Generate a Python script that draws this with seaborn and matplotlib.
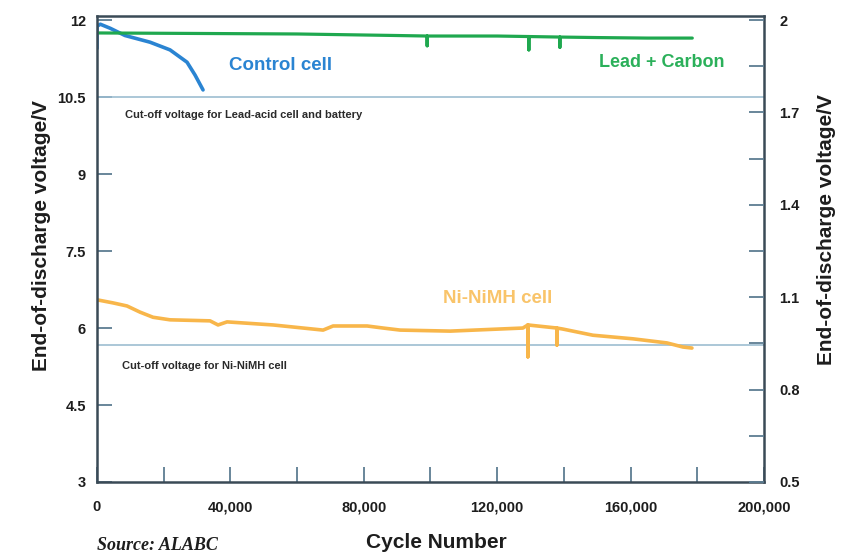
import numpy as np
import pandas as pd
import matplotlib.pyplot as plt
import seaborn as sns
from matplotlib.ticker import MultipleLocator, FuncFormatter

sns.set_style("white")
plt.rcParams['font.family'] = ['Liberation Sans', 'DejaVu Sans']
plt.rcParams['font.weight'] = 'bold'

# data (cycle number, end-of-discharge voltage on the 12 V scale)
control_cycles = [0, 0, 1000, 4000, 8400, 15900, 21900, 27000, 29400, 31800]
control_volts = [11.45, 11.88, 11.92, 11.84, 11.70, 11.57, 11.42, 11.18, 10.93, 10.64]

lead_cycles = [0, 30000, 60000, 90000, 99000, 99000, 99000, 110000, 120000,
               129500, 129500, 129500, 138800, 138800, 138800, 150000, 165000, 178500]
lead_volts = [11.75, 11.74, 11.73, 11.70, 11.69, 11.50, 11.69, 11.69, 11.69,
              11.68, 11.42, 11.68, 11.67, 11.47, 11.67, 11.66, 11.65, 11.65]

nimh_cycles = [0, 4800, 9000, 12900, 16800, 21900, 33900, 36300, 39000, 52800,
               67800, 70800, 81000, 85800, 90900, 105900, 127700, 129200, 129200,
               129200, 137900, 137900, 137900, 139700, 148700, 160700, 170900,
               175700, 178400]
nimh_volts = [6.55, 6.49, 6.43, 6.31, 6.21, 6.16, 6.14, 6.06, 6.12, 6.06,
              5.96, 6.04, 6.04, 6.00, 5.96, 5.94, 6.00, 6.06, 5.44,
              6.06, 6.00, 5.67, 6.00, 5.98, 5.86, 5.79, 5.71,
              5.63, 5.61]

cutoff_lead = 10.5
cutoff_nimh = 5.67

df = pd.concat([
    pd.DataFrame({'cycle': control_cycles, 'volt': control_volts, 'cell': 'Control cell'}),
    pd.DataFrame({'cycle': lead_cycles, 'volt': lead_volts, 'cell': 'Lead + Carbon'}),
    pd.DataFrame({'cycle': nimh_cycles, 'volt': nimh_volts, 'cell': 'Ni-NiMH cell'}),
])
colors = {'Control cell': '#2a84d2', 'Lead + Carbon': '#1fa84f', 'Ni-NiMH cell': '#f8b64a'}

fig = plt.figure(figsize=(8.56, 5.56), dpi=100)
ax = fig.add_axes([0.1133, 0.1331, 0.7792, 0.8381])

ax.axhline(cutoff_lead, color='#9dbdd1', lw=1.2, zorder=1)
ax.axhline(cutoff_nimh, color='#9dbdd1', lw=1.2, zorder=1)

for cell, sub in df.groupby('cell'):
    sns.lineplot(data=sub, x='cycle', y='volt', color=colors[cell], estimator=None,
                 sort=False, lw=2.6 if cell != 'Lead + Carbon' else 2.3, ax=ax, legend=False)

ax.set_xlim(0, 200000)
ax.set_ylim(3, 12.08)
ax.set_xlabel('')
ax.set_ylabel('')

ax.set_yticks([3, 4.5, 6, 7.5, 9, 10.5, 12])
ax.yaxis.set_major_formatter(FuncFormatter(lambda v, p: f'{v:g}'))
ax.xaxis.set_major_locator(MultipleLocator(40000))
ax.xaxis.set_minor_locator(MultipleLocator(20000))
ax.xaxis.set_major_formatter(FuncFormatter(lambda v, p: f'{v:,.0f}'))

ax.tick_params(axis='both', which='both', direction='in', length=11, width=1.3,
               color='#5d7d92', labelsize=10.5, labelcolor='#1d1d1d',
               bottom=True, left=True)
ax.tick_params(axis='x', pad=13)
ax.tick_params(axis='y', pad=8)

for s in ax.spines.values():
    s.set_color('#3a4a56')
    s.set_linewidth(1.8)

ax2 = ax.twinx()
ax2.set_ylim(0.5, 0.5 + (12.08 - 3) / 6)
ax2.set_yticks(np.arange(0.5, 2.01, 0.3))
ax2.set_yticks(np.arange(0.65, 2.0, 0.3), minor=True)
ax2.yaxis.set_major_formatter(FuncFormatter(lambda v, p: f'{v:.1f}'.rstrip('0').rstrip('.')))
ax2.tick_params(axis='y', which='both', direction='in', length=11, width=1.3,
                color='#5d7d92', labelsize=10.5, labelcolor='#1d1d1d', pad=11, right=True)
for s in ax2.spines.values():
    s.set_visible(False)

ax.text(54900, 11.12, 'Control cell', color='#2a84d2', fontsize=13.5, ha='center', va='center')
ax.text(169400, 11.18, 'Lead + Carbon', color='#2bb05a', fontsize=13, ha='center', va='center')
ax.text(120200, 6.58, 'Ni-NiMH cell', color='#f9c46a', fontsize=13.5, ha='center', va='center')
ax.text(8400, 10.15, 'Cut-off voltage for Lead-acid cell and battery', color='#2a2a2a',
        fontsize=8, ha='left', va='center')
ax.text(7600, 5.26, 'Cut-off voltage for Ni-NiMH cell', color='#2a2a2a',
        fontsize=8, ha='left', va='center')

fig.text(42 / 856, 1 - 236 / 556, 'End-of-discharge voltage/V', rotation=90,
         ha='center', va='center', fontsize=15, color='#1d1d1d')
fig.text(826 / 856, 1 - 230 / 556, 'End-of-discharge voltage/V', rotation=90,
         ha='center', va='center', fontsize=15, color='#1d1d1d')
fig.text(436 / 856, 1 - 543 / 556, 'Cycle Number', ha='center', va='center',
         fontsize=15, color='#1d1d1d')
fig.text(97 / 856, 1 - 545 / 556, 'Source: ALABC', ha='left', va='center',
         fontsize=13, style='italic', family='Liberation Serif', color='#1d1d1d')

fig.savefig('out.png', dpi=100, facecolor='white')
